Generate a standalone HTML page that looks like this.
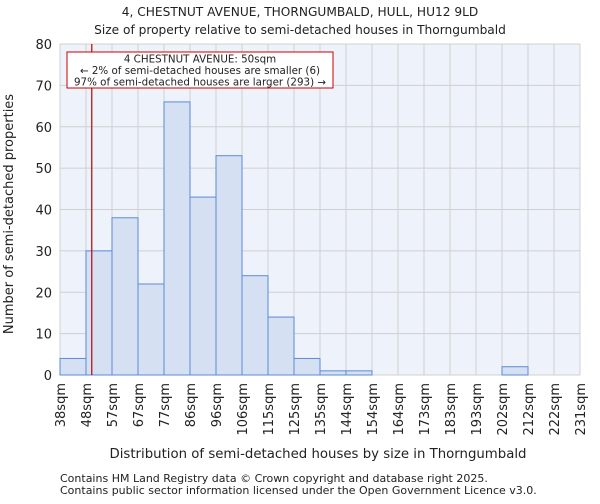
<!DOCTYPE html>
<html><head><meta charset="utf-8"><style>
body{margin:0;background:#fff;font-family:"DejaVu Sans","Liberation Sans",sans-serif}
svg text{font-family:"DejaVu Sans","Liberation Sans",sans-serif;fill:#222}
</style></head><body>
<svg id="c" width="600" height="500" xmlns="http://www.w3.org/2000/svg">
<text x="300" y="16" font-size="12.2" text-anchor="middle">4, CHESTNUT AVENUE, THORNGUMBALD, HULL, HU12 9LD</text>
<text x="300" y="34" font-size="12.2" text-anchor="middle">Size of property relative to semi-detached houses in Thorngumbald</text>
<rect x="60" y="44" width="520" height="331" fill="#eef2fa"/>
<g id="grid"></g><g id="bars"></g><g id="axes"></g>
<text x="318" y="458" font-size="13.3" text-anchor="middle">Distribution of semi-detached houses by size in Thorngumbald</text>
<text transform="translate(13,214) rotate(-90)" font-size="13" text-anchor="middle">Number of semi-detached properties</text>
<text x="60" y="482" font-size="11" fill="#444">Contains HM Land Registry data © Crown copyright and database right 2025.</text>
<text x="60" y="494" font-size="11" fill="#444">Contains public sector information licensed under the Open Government Licence v3.0.</text>
</svg>
<script>
const categories=["38sqm","48sqm","57sqm","67sqm","77sqm","86sqm","96sqm","106sqm","115sqm","125sqm","135sqm","144sqm","154sqm","164sqm","173sqm","183sqm","193sqm","202sqm","212sqm","222sqm","231sqm"];
const counts=[4,30,38,22,66,43,53,24,14,4,1,1,0,0,0,0,0,2,0,0];
const yTicks=[0,10,20,30,40,50,60,70,80];
const binEdges=[38,48,57,67,77,86,96,106,115,125,135,144,154,164,173,183,193,202,212,222,231];
const subjectSize=50;
const NS="http://www.w3.org/2000/svg";
const X0=60,X1=580,Y0=375,Y1=44,YMAX=80;
const bw=(X1-X0)/counts.length;
const xb=i=>X0+i*bw;
const y=v=>Y0-(v/YMAX)*(Y0-Y1);
function mk(t,a,p){const e=document.createElementNS(NS,t);for(const k in a)e.setAttribute(k,a[k]);p.appendChild(e);return e;}
const grid=document.getElementById('grid'),bars=document.getElementById('bars'),axes=document.getElementById('axes');
yTicks.forEach(t=>{
 const l=mk('line',{x1:X0,x2:X1,y1:y(t),y2:y(t),stroke:'#d0d0d0'},grid);
 
 
 const tx=mk('text',{x:X0-8,y:y(t)+5,'font-size':13,'text-anchor':'end'},axes);
 tx.textContent=t;
 
 
});
categories.forEach((c,i)=>{
 const l=mk('line',{x1:xb(i),x2:xb(i),y1:Y1,y2:Y0,stroke:'#d0d0d0'},grid);
 
 
 const tx=mk('text',{transform:`translate(${xb(i)+5},${Y0+8}) rotate(-90)`,'font-size':13,'text-anchor':'end'},axes);
 tx.textContent=c;
 
 
});
counts.forEach((v,i)=>{
 if(v<=0)return;
 const r=mk('rect',{x:xb(i),y:y(v),width:bw,height:Y0-y(v),fill:'#d6e0f3',stroke:'#5b8bd6','stroke-width':1},bars);
 
 
});
let k=0;while(k<binEdges.length-2&&binEdges[k+1]<=subjectSize)k++;
const mx=xb(k)+(subjectSize-binEdges[k])/(binEdges[k+1]-binEdges[k])*bw;
const ml=mk('line',{x1:mx,x2:mx,y1:Y1,y2:Y0,stroke:'#bb0000','stroke-width':1.2},axes);


const box=mk('rect',{x:67,y:52,width:266,height:36,fill:'#fff',stroke:'#cc0000'},axes);


["4 CHESTNUT AVENUE: 50sqm","← 2% of semi-detached houses are smaller (6)","97% of semi-detached houses are larger (293) →"].forEach((s,i)=>{
 const t=mk('text',{x:200,y:62.5+i*11.5,'font-size':10.3,'text-anchor':'middle'},axes);
 t.textContent=s;
 
 
});
</script>
</body></html>
